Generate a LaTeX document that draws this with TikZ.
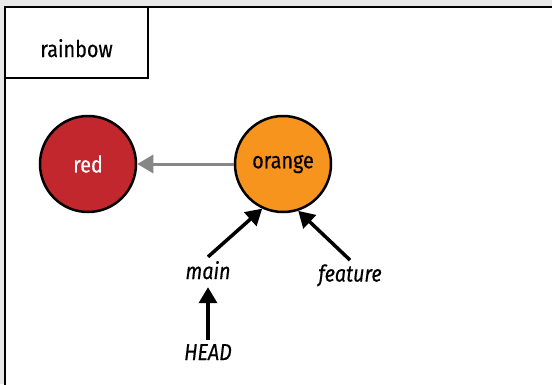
\documentclass[tikz,border=0pt]{standalone}
\usepackage{fontspec}
\setmainfont{Fira Sans}[FakeStretch=0.86,FakeBold=0.4]
\usetikzlibrary{arrows.meta}

\definecolor{rbred}{HTML}{C1272D}
\definecolor{rborange}{HTML}{F7941D}
\definecolor{rbgray}{HTML}{868686}
\definecolor{rbback}{HTML}{E8E8E8}

\begin{document}
\begin{tikzpicture}[x=1pt,y=-1pt,
  commit/.style={circle,draw=black,line width=2.5pt,minimum size=96pt,inner sep=0pt,font=\fontsize{23}{27}\selectfont},
  ref/.style={inner sep=4pt,text depth=4pt,anchor=base,font=\fontsize{23}{27}\selectfont\itshape},
  pointer/.style={line width=3.5pt,-{Triangle[length=16pt,width=18pt]}},
  parent/.style={draw=rbgray,line width=3pt,-{Triangle[length=16pt,width=18pt]}}]
\useasboundingbox (0,0) rectangle (552,384);
\clip (0,0) rectangle (552,384);
\fill[rbback] (0,0) rectangle (552,384);

% repository frame and its tab
\draw[fill=white,line width=2.5pt] (5,7) rectangle (600,420);
\draw[line width=2.5pt] (5,7) rectangle (148,78);
\node[anchor=base,font=\fontsize{23}{27}\selectfont] (repo) at (76.5,57) {rainbow};

\node[commit,fill=rbred,text=white] (red) at (88,164) {red};
\node[commit,fill=rborange] (orange) at (283,164) {orange};

\node[ref] (main) at (208,279) {main};
\node[ref] (feature) at (350,281.5) {feature};
\node[ref] (head) at (208,360) {HEAD};

\draw[parent] (orange) -- (red);
\draw[pointer] (main.north) -- (orange.-115);
\draw[pointer] (feature.north) -- (orange.-72);
\draw[pointer] (head.north) -- (main.south);
\end{tikzpicture}
\end{document}
